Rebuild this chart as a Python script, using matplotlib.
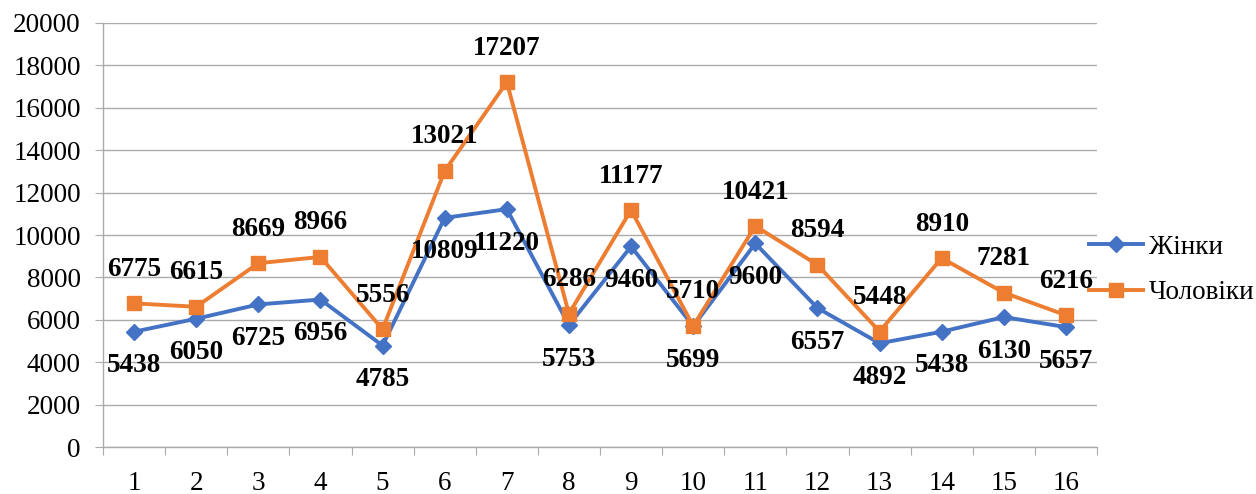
import matplotlib.pyplot as plt
import numpy as np

plt.rcParams['font.family'] = ['Liberation Serif', 'DejaVu Serif']

categories = list(range(1, 17))
women = [5438, 6050, 6725, 6956, 4785, 10809, 11220, 5753,
         9460, 5699, 9600, 6557, 4892, 5438, 6130, 5657]
men = [6775, 6615, 8669, 8966, 5556, 13021, 17207, 6286,
       11177, 5710, 10421, 8594, 5448, 8910, 7281, 6216]
yticks = list(range(0, 20001, 2000))

blue = '#4472C4'
orange = '#ED7D31'
grid_c = '#ababab'

fig = plt.figure(figsize=(12.56, 4.94), dpi=100)
ax = fig.add_axes([103/1256, 47/494, 994/1256, 424/494])

ax.plot(categories, women, color=blue, lw=2.8, marker='D', markersize=8,
        label='Жінки', zorder=3)
ax.plot(categories, men, color=orange, lw=2.8, marker='s', markersize=10.5,
        label='Чоловіки', zorder=4)

# data labels: women below, men above
for x, v in zip(categories, women):
    ax.annotate(str(v), (x, v), xytext=(0, -24.5), textcoords='offset points',
                ha='center', va='center', fontsize=19.5, fontweight='bold', zorder=5)
for x, v in zip(categories, men):
    ax.annotate(str(v), (x, v), xytext=(0, 24.5), textcoords='offset points',
                ha='center', va='center', fontsize=19.5, fontweight='bold', zorder=5)

ax.set_xlim(0.5, 16.5)
ax.set_ylim(0, 20000)
ax.set_yticks(yticks)
ax.set_yticklabels([str(t) for t in yticks], fontsize=19.5)
ax.yaxis.grid(True, color=grid_c, lw=1.0)
ax.set_axisbelow(True)

# ticks between categories, labels at centres
ax.set_xticks(np.arange(0.5, 17, 1))
ax.set_xticklabels([])
ax.set_xticks(categories, minor=True)
ax.set_xticklabels([str(c) for c in categories], minor=True, fontsize=19.5)
ax.tick_params(axis='x', which='major', length=6, color=grid_c, direction='out')
ax.tick_params(axis='x', which='minor', length=0, pad=17)
ax.tick_params(axis='y', length=6, color=grid_c, pad=10)

for s in ['top', 'right']:
    ax.spines[s].set_visible(False)
for s in ['left', 'bottom']:
    ax.spines[s].set_color(grid_c)
    ax.spines[s].set_linewidth(1.0)

ax.legend(loc='center left', bbox_to_anchor=(0.992, 0.4175), frameon=False,
          fontsize=19.5, borderaxespad=0, borderpad=0, handlelength=2.0,
          handletextpad=0.2, labelspacing=0.75)

fig.savefig('out.png', dpi=100)
